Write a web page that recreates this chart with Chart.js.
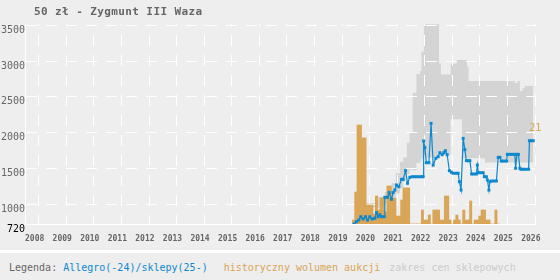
<!DOCTYPE html>
<html>
<head>
<meta charset="utf-8">
<script src="https://cdn.jsdelivr.net/npm/chart.js@4"></script>
<style>
  html, body { margin: 0; padding: 0; background: #eeeeee; }
  #wrap { position: relative; width: 560px; height: 280px; overflow: hidden; }
  #title { position: absolute; left: 34px; top: 5px; font: bold 11px/14px "DejaVu Sans Mono", monospace; color: #666; letter-spacing: 0.4px; white-space: pre; }
  #sep { position: absolute; left: 0; top: 250px; width: 560px; height: 3px; background: #fff; }
  #legend { position: absolute; left: 9px; top: 255px; height: 26px; font: 10px/26px "DejaVu Sans Mono", monospace; color: #666; white-space: pre; }
  canvas { position: absolute; left: 0; top: 0; }
</style>
</head>
<body>
<div id="wrap">
  <canvas id="chart" width="560" height="250"></canvas>
  <div id="title">50 zł - Zygmunt III Waza</div>
  <div id="sep"></div>
  <div id="legend">Legenda: <span style="color:#0b88d0">Allegro(-24)/sklepy(25-)</span><span style="margin-left:16px;color:#d9a557">historyczny wolumen aukcji</span><span style="margin-left:9px;color:#cccccc">zakres cen sklepowych</span></div>
</div>
<script>
var BLUE = '#0b88d0';
var ORANGE = '#d9a557';
var GREY = '#d4d4d4';

var yearTicks = [2008, 2009, 2010, 2011, 2012, 2013, 2014, 2015, 2016, 2017, 2018, 2019, 2020, 2021, 2022, 2023, 2024, 2025, 2026];
var priceTicks = [720, 1000, 1500, 2000, 2500, 3000, 3500];

// Allegro prices (zl), time as decimal year
var allegroX = [2019.938, 2020.025, 2020.109, 2020.181, 2020.265, 2020.352, 2020.425, 2020.508, 2020.592, 2020.69,
  2020.751, 2020.809, 2020.871, 2020.933, 2021.027, 2021.053, 2021.151, 2021.209, 2021.296, 2021.354,
  2021.416, 2021.477, 2021.561, 2021.659, 2021.717, 2021.804, 2021.877, 2021.96, 2022.044, 2022.128,
  2022.215, 2022.298, 2022.382, 2022.443, 2022.461, 2022.505, 2022.559, 2022.65, 2022.73, 2022.806,
  2022.904, 2022.987, 2023.049, 2023.132, 2023.194, 2023.248, 2023.314, 2023.394, 2023.466, 2023.532,
  2023.63, 2023.713, 2023.757, 2023.818, 2023.895, 2023.956, 2024.011, 2024.083, 2024.138, 2024.2,
  2024.283, 2024.374, 2024.41, 2024.446, 2024.537, 2024.621, 2024.664, 2024.737, 2024.773, 2024.828,
  2024.864, 2024.918, 2025.009, 2025.1, 2025.166, 2025.227, 2025.282, 2025.372, 2025.47, 2025.5,
  2025.59, 2025.68, 2025.77, 2025.797, 2025.844, 2025.898, 2025.953, 2025.99, 2026.08, 2026.17,
  2026.269, 2026.298, 2026.37, 2026.436];
var allegroY = [720, 752, 775, 822, 790, 822, 775, 822, 790, 800,
  878, 822, 850, 822, 822, 1094, 1094, 1160, 1066, 1160,
  1196, 1266, 1242, 1345, 1345, 1466, 1290, 1374, 1382, 1382,
  1382, 1382, 1382, 1382, 1882, 1790, 1578, 1578, 2129, 1545,
  1640, 1662, 1718, 1690, 1718, 1746, 1690, 1466, 1445, 1430,
  1430, 1430, 1312, 1196, 1919, 1760, 1606, 1606, 1606, 1420,
  1420, 1420, 1545, 1438, 1438, 1438, 1382, 1382, 1336, 1196,
  1312, 1322, 1322, 1322, 1653, 1653, 1601, 1601, 1601, 1695,
  1695, 1695, 1695, 1500, 1695, 1695, 1500, 1486, 1486, 1486,
  1486, 1886, 1886, 1886];
var offerCount = 21;

// shop price range, stepped
var shopX = [2020.25, 2020.8, 2021.05, 2021.2, 2021.3, 2021.45, 2021.6, 2021.72, 2021.85, 2021.95,
  2022.06, 2022.2, 2022.33, 2022.38, 2022.47, 2023.02, 2023.085, 2023.44, 2023.655, 2023.85,
  2024.04, 2024.09, 2024.68, 2025.77, 2025.87, 2025.95, 2026.05, 2026.13, 2026.44];
var shopMin = [950, 950, 1000, 1050, 1090, 1150, 1220, 1320, 1420, 1480,
  1474, 1573, 1600, 1640, 1650, 1690, 1690, 2185, 2185, 1640,
  1640, 1640, 1580, 1580, 1580, 1580, 1580, 1580, 1580];
var shopMax = [1015, 1100, 1167, 1230, 1290, 1430, 1590, 1650, 1860, 1993,
  2557, 2819, 2861, 3131, 3518, 2968, 2814, 2968, 3015, 3015,
  2921, 2721, 2721, 2693, 2721, 2581, 2619, 2651, 2651];

// monthly auction volume from 2019-11
var volumeStart = [2019, 11];
var volume = [2, 16, 49.5, 49.5, 43, 43, 9.5, 9.5, 9.5, 5, 14, 7,
  13, 13, 6, 19, 19, 13, 13, 4, 4, 12, 18, 18,
  18, 0, 0, 0, 0, 0, 7, 2, 2, 4.5, 0, 7,
  7, 7, 2, 2, 14, 14, 2, 0, 2, 4.5, 2, 0,
  7, 2, 2, 11.5, 0, 2, 2, 4, 7, 7, 2, 2,
  0, 0, 7, 0];

function monthPos(i) {
  return volumeStart[0] + (volumeStart[1] + i) / 12;
}

function pts(xs, ys) {
  return xs.map(function (x, i) { return { x: x, y: ys[i] }; });
}

// redraw the grid over the grey range, under bars and line
var gridOverFill = {
  id: 'gridOverFill',
  beforeDatasetsDraw: function (chart) {
    chart.scales.x.drawGrid(chart.chartArea);
    chart.scales.y.drawGrid(chart.chartArea);
  }
};

var countLabel = {
  id: 'countLabel',
  afterDatasetsDraw: function (chart) {
    var ctx = chart.ctx;
    var i = allegroX.length - 1;
    var px = chart.scales.x.getPixelForValue(allegroX[i]);
    var py = chart.scales.y.getPixelForValue(allegroY[i]);
    ctx.save();
    ctx.font = '10px "DejaVu Sans Mono"';
    ctx.fillStyle = ORANGE;
    ctx.textAlign = 'center';
    ctx.textBaseline = 'middle';
    ctx.fillText(String(offerCount), px + 2, py - 12);
    ctx.restore();
  }
};

new Chart(document.getElementById('chart'), {
  type: 'line',
  data: {
    datasets: [
      {
        data: pts(shopX, shopMin),
        stepped: true, borderWidth: 0, pointRadius: 0, fill: false, order: 4
      },
      {
        data: pts(shopX, shopMax),
        stepped: true, borderWidth: 0, pointRadius: 0, fill: '-1',
        backgroundColor: GREY, order: 3
      },
      {
        type: 'bar',
        data: volume.map(function (v, i) { return { x: monthPos(i), y: v }; }),
        yAxisID: 'yv',
        backgroundColor: ORANGE,
        barPercentage: 1, categoryPercentage: 1,
        order: 2
      },
      {
        data: pts(allegroX, allegroY),
        borderColor: BLUE, borderWidth: 1.2,
        pointStyle: 'rect', pointRadius: 2.1, pointBorderWidth: 0,
        pointBackgroundColor: BLUE,
        tension: 0, fill: false, order: 1
      }
    ]
  },
  options: {
    responsive: false,
    animation: false,
    layout: { padding: { top: 24, right: 25, left: 0, bottom: 0 } },
    plugins: {
      legend: { display: false },
      tooltip: { enabled: false },
      filler: { drawTime: 'beforeDatasetsDraw' }
    },
    scales: {
      x: {
        type: 'linear', min: 2008, max: 2026.5, offset: false,
        afterBuildTicks: function (s) { s.ticks = yearTicks.map(function (v) { return { value: v }; }); },
        afterFit: function (s) { s.height = 26; },
        grid: { color: '#fff', lineWidth: 1, drawTicks: false },
        border: { color: '#fff', width: 1, dash: [11, 9], dashOffset: 9 },
        ticks: {
          align: 'start', padding: 10, autoSkip: false, maxRotation: 0,
          font: { family: 'DejaVu Sans Mono', size: 8, weight: 'bold' },
          color: '#666',
          callback: function (v) { return String(v); }
        }
      },
      y: {
        type: 'linear', min: 720, max: 3520,
        afterBuildTicks: function (s) { s.ticks = priceTicks.map(function (v) { return { value: v }; }); },
        afterFit: function (s) { s.width = 25; },
        grid: { color: '#fff', lineWidth: 1, drawTicks: false },
        border: { color: '#fff', width: 1, dash: [11, 9], dashOffset: 0 },
        ticks: {
          padding: 0, labelOffset: 5,
          font: { family: 'DejaVu Sans Mono', size: 10 },
          color: function (c) { return c.tick && c.tick.value === 720 ? '#000' : '#666'; },
          callback: function (v) { return String(v); }
        }
      },
      yv: {
        type: 'linear', display: false, min: 0, max: 100
      }
    }
  },
  plugins: [gridOverFill, countLabel]
});
</script>
</body>
</html>
